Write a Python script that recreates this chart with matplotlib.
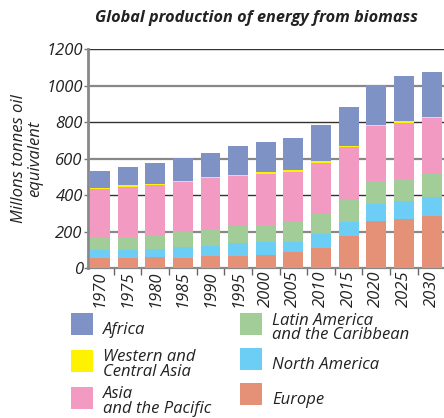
import matplotlib.pyplot as plt
from matplotlib.lines import Line2D
import numpy as np

plt.rcParams['font.family'] = ['Open Sans', 'DejaVu Sans']

years = ['1970', '1975', '1980', '1985', '1990', '1995', '2000',
         '2005', '2010', '2015', '2020', '2025', '2030']

# Millions tonnes oil equivalent, stacked bottom to top
europe = [57, 57, 60, 57, 68, 68, 71, 90, 112, 178, 258, 269, 287]
north_america = [44, 44, 44, 58, 55, 69, 74, 55, 76, 76, 95, 99, 103]
latin_america = [66, 69, 77, 84, 91, 95, 91, 109, 110, 121, 125, 121, 128]
asia_pacific = [267, 277, 275, 273, 282, 275, 282, 275, 278, 289, 302, 307, 307]
west_central_asia = [7, 11, 7, 6, 5, 5, 9, 9, 11, 8, 5, 11, 4]
africa = [92, 97, 113, 128, 130, 158, 165, 176, 198, 212, 220, 249, 247]

series = [
    ('Europe', europe, '#e59177'),
    ('North America', north_america, '#6ccdf5'),
    ('Latin America\nand the Caribbean', latin_america, '#a3cd98'),
    ('Asia\nand the Pacific', asia_pacific, '#f39ac2'),
    ('Western and\nCentral Asia', west_central_asia, '#fff200'),
    ('Africa', africa, '#7f92c5'),
]

fig = plt.figure(figsize=(4.44, 4.18), dpi=100)
ax = fig.add_axes([0.199, 0.359, 0.801, 0.523])

x = np.arange(len(years))
bottom = np.zeros(len(years))
colors = {}
for name, vals, color in series:
    ax.bar(x, vals, bottom=bottom, width=0.72, color=color, zorder=3)
    bottom += np.array(vals)
    colors[name] = color

# gridlines alternating dark / grey
for v in range(200, 1201, 200):
    if v % 400 == 0:
        ax.axhline(v, color='#333333', lw=1.0, zorder=1)
    else:
        ax.axhline(v, color='#888888', lw=1.6, zorder=1)

ax.set_ylim(0, 1200)
ax.set_xlim(-0.42, 12.45)
ax.set_yticks(range(0, 1201, 200))
ax.set_yticklabels([str(v) for v in range(0, 1201, 200)],
                   fontsize=12, style='italic', color='#222222')
ax.tick_params(axis='y', length=3, width=1, color='#777777', pad=1)

ax.set_xticks(x)
ax.set_xticklabels(years, rotation=90, fontsize=12, style='italic',
                   color='#222222')
ax.set_xticks(x[:-1] + 0.5, minor=True)
ax.tick_params(axis='x', which='major', length=0, pad=2)
ax.tick_params(axis='x', which='minor', length=5, width=1, color='#666666')

for s in ['top', 'right']:
    ax.spines[s].set_visible(False)
ax.spines['left'].set_color('#888888')
ax.spines['left'].set_linewidth(2)
ax.spines['bottom'].set_color('#888888')
ax.spines['bottom'].set_linewidth(1.6)

ax.set_ylabel('Millons tonnes oil\nequivalent', fontsize=12, style='italic',
              color='#222222', linespacing=1.0)
ax.yaxis.set_label_coords(-0.127, 0.5)

fig.text(0.578, 0.957, 'Global production of energy from biomass',
         ha='center', va='center', fontsize=11.7, weight='bold',
         style='italic', color='#222222')

# legend, column order
order = ['Africa', 'Western and\nCentral Asia', 'Asia\nand the Pacific',
         'Latin America\nand the Caribbean', 'North America', 'Europe']
handles = [Line2D([], [], marker='s', linestyle='none', markersize=16.5,
                  markerfacecolor=colors[n], markeredgewidth=0) for n in order]
leg = fig.legend(handles, order, ncol=2, loc='upper left',
                 bbox_to_anchor=(0.121, 0.288), frameon=False,
                 prop={'size': 12, 'style': 'italic'},
                 handlelength=1.6, handleheight=2.3, handletextpad=0.45,
                 labelspacing=0.36, columnspacing=1.6)
for t in leg.get_texts():
    t.set_color('#222222')
    t.set_linespacing(0.9)

fig.savefig('out.png', dpi=100)
